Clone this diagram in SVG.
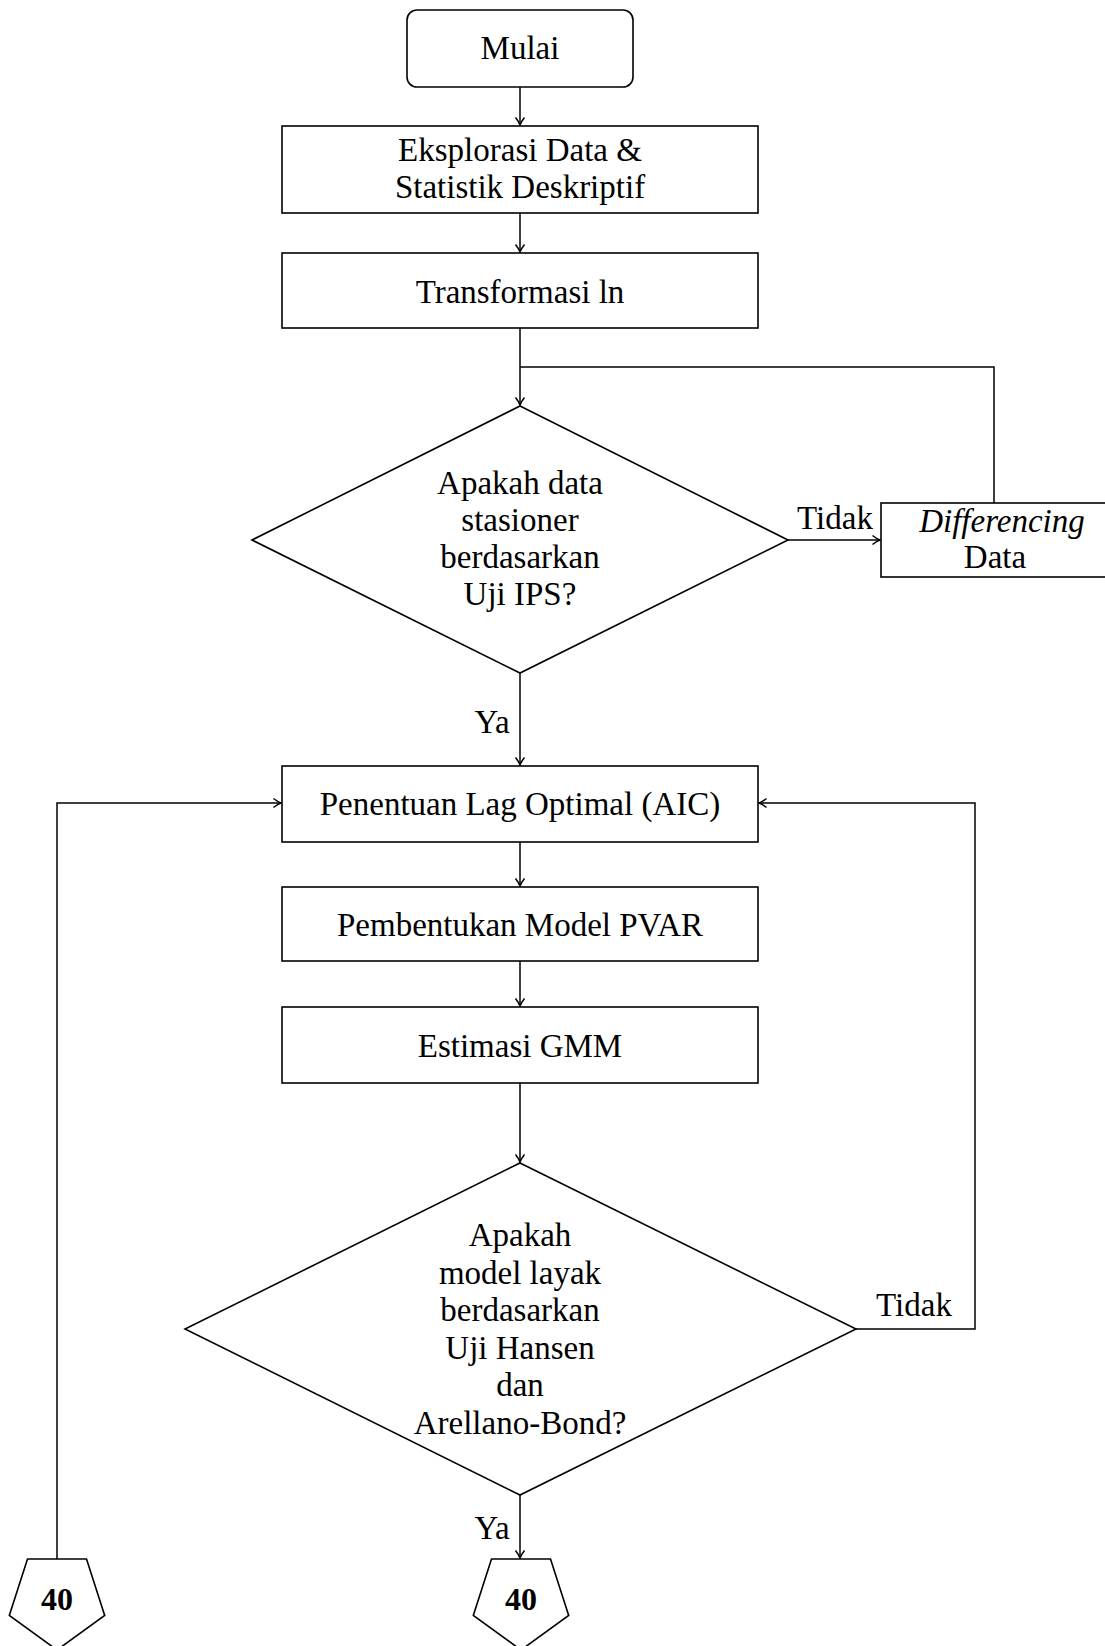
<svg xmlns="http://www.w3.org/2000/svg" width="1105" height="1646" viewBox="0 0 1105 1646">
<defs>
<style>
.n{fill:#fff;stroke:#000;stroke-width:1.6}
.t{font-family:"Liberation Serif","Times New Roman",serif;font-size:33px;fill:#000;text-anchor:middle}
.b{font-weight:bold;font-size:32px}
.i{font-style:italic}
.c{fill:none;stroke:#000;stroke-width:1.5}
</style>
<marker id="ah" markerWidth="12" markerHeight="12" refX="9" refY="6" orient="auto" markerUnits="userSpaceOnUse">
<path d="M1.5,1.5 Q6,5 9,6 Q6,7 1.5,10.5" fill="none" stroke="#000" stroke-width="1.5"/>
</marker>
</defs>
<rect width="1105" height="1646" fill="#fff"/>
<g id="connectors">
<path class="c" d="M520,87 V125" marker-end="url(#ah)"/>
<path class="c" d="M520,213 V252" marker-end="url(#ah)"/>
<path class="c" d="M520,328 V405" marker-end="url(#ah)"/>
<path class="c" d="M994,503 V367 H520"/>
<path class="c" d="M788,540 H880" marker-end="url(#ah)"/>
<path class="c" d="M520,673 V765" marker-end="url(#ah)"/>
<path class="c" d="M520,842 V886" marker-end="url(#ah)"/>
<path class="c" d="M520,961 V1006" marker-end="url(#ah)"/>
<path class="c" d="M520,1083 V1162" marker-end="url(#ah)"/>
<path class="c" d="M856,1329 H975 V803 H759" marker-end="url(#ah)"/>
<path class="c" d="M520,1495 V1558" marker-end="url(#ah)"/>
<path class="c" d="M57,1559 V803 H281" marker-end="url(#ah)"/>
<text class="t" x="835" y="529">Tidak</text>
<text class="t" x="492" y="733">Ya</text>
<text class="t" x="914" y="1316">Tidak</text>
<text class="t" x="492" y="1539">Ya</text>
</g>
<g id="mulai">
<rect class="n" x="407" y="10" width="226" height="77" rx="10"/>
<text class="t" x="520" y="59">Mulai</text>
</g>
<g id="eksplorasi">
<rect class="n" x="282" y="126" width="476" height="87"/>
<text class="t" x="520" y="161">Eksplorasi Data &amp;</text>
<text class="t" x="520" y="198">Statistik Deskriptif</text>
</g>
<g id="transformasi">
<rect class="n" x="282" y="253" width="476" height="75"/>
<text class="t" x="520" y="303">Transformasi ln</text>
</g>
<g id="stasioner">
<polygon class="n" points="520,406 788,540 520,673 252,540"/>
<text class="t" x="520" y="494">Apakah data</text>
<text class="t" x="520" y="531">stasioner</text>
<text class="t" x="520" y="568">berdasarkan</text>
<text class="t" x="520" y="605">Uji IPS?</text>
</g>
<g id="differencing">
<rect class="n" x="881" y="503" width="240" height="74"/>
<text class="t i" x="1002" y="532">Differencing</text>
<text class="t" x="995" y="568">Data</text>
</g>
<g id="lag">
<rect class="n" x="282" y="766" width="476" height="76"/>
<text class="t" x="520" y="815">Penentuan Lag Optimal (AIC)</text>
</g>
<g id="pvar">
<rect class="n" x="282" y="887" width="476" height="74"/>
<text class="t" x="520" y="936">Pembentukan Model PVAR</text>
</g>
<g id="gmm">
<rect class="n" x="282" y="1007" width="476" height="76"/>
<text class="t" x="520" y="1057">Estimasi GMM</text>
</g>
<g id="layak">
<polygon class="n" points="520,1163 856,1329 520,1495 185,1329"/>
<text class="t" x="520" y="1246">Apakah</text>
<text class="t" x="520" y="1284">model layak</text>
<text class="t" x="520" y="1321">berdasarkan</text>
<text class="t" x="520" y="1359">Uji Hansen</text>
<text class="t" x="520" y="1396">dan</text>
<text class="t" x="520" y="1434">Arellano-Bond?</text>
</g>
<g id="off40a">
<polygon class="n" points="27.5,1559 86.5,1559 104.7,1615.5 57,1650 9.3,1615.5"/>
<text class="t b" x="57" y="1610">40</text>
</g>
<g id="off40b">
<polygon class="n" points="491.5,1559 550.5,1559 568.7,1615.5 521,1650 473.3,1615.5"/>
<text class="t b" x="521" y="1610">40</text>
</g>
</svg>
